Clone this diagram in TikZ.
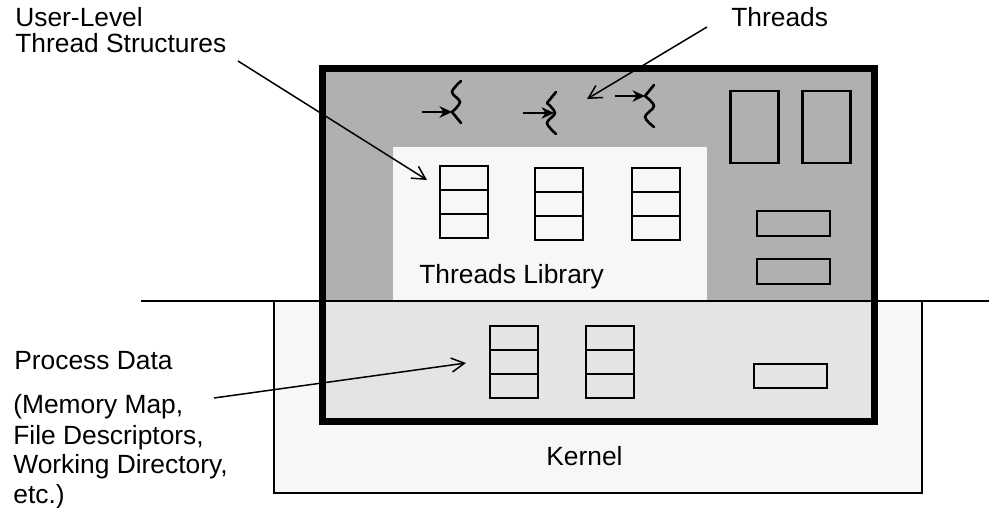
\documentclass[tikz,border=0pt]{standalone}
\usepackage{fontspec}
\setmainfont{Liberation Sans}
\usetikzlibrary{arrows.meta}
\definecolor{userfill}{HTML}{B0B0B0}
\definecolor{libfill}{HTML}{F7F7F7}
\definecolor{kernfill}{HTML}{E4E4E4}
\begin{document}
\begin{tikzpicture}[x=0.02cm, y=-0.02cm, font=\fontsize{15}{18}\selectfont, >={Straight Barb[length=2.6mm,width=2.8mm]}]
	\tikzset{slot/.style={draw, line width=1.4pt, minimum width=0.96cm, minimum height=0.48cm, inner sep=0pt, outer sep=0pt}}
	\tikzset{tall/.style={slot, minimum height=1.44cm}}
	\tikzset{flat/.style={slot, minimum width=1.46cm, minimum height=0.49cm}}
	\tikzset{label style/.style={inner sep=0pt, anchor=base west}}
	\tikzset{thread/.style={line width=1.5pt, line cap=round}}
	\tikzset{pointer/.style={->, line width=0.85pt}}
	\tikzset{tail/.style={-{Stealth[length=2.5mm,width=2.3mm]}, line width=1.7pt}}
	\useasboundingbox (0,0) rectangle (989,507);
	% regions
	\fill[libfill] (274,301) rectangle (922,493);
	\draw[line width=1.4pt] (274,301) -- (274,493) -- (922,493) -- (922,301);
	\fill[userfill] (322,69) rectangle (874,301);
	\fill[kernfill] (322,301) rectangle (874,421);
	\fill[libfill] (393,147) rectangle (707,301);
	\draw[line width=1.4pt] (141,301) -- (989,301);
	\draw[line width=4.3pt] (322.5,68.7) rectangle (874.5,421.3);
	% tables
	\foreach \name/\x/\y in {ua/464/166, ub/559/168, uc/656/168, pa/514/326, pb/610/326}{
		\node[slot] (\name1) at (\x,\y+12) {};
		\node[slot] (\name2) at (\x,\y+36) {};
		\node[slot] (\name3) at (\x,\y+60) {};
	}
	% other boxes
	\node[tall] (stacka) at (754.3,127) {};
	\node[tall] (stackb) at (826.7,127) {};
	\node[flat] (boxa) at (793.5,223.5) {};
	\node[flat] (boxb) at (793.5,271.5) {};
	\node[flat] (boxc) at (790.5,376) {};
	% threads
	\draw[thread] plot[smooth, tension=0.55] coordinates {(461,81) (452,92) (460,102) (452,112)};
	\draw[thread] (452,112) -- (461,123);
	\draw[thread] (556,92) -- (547,103);
	\draw[thread] plot[smooth, tension=0.55] coordinates {(547,103) (555,113) (547,123) (556,134)};
	\draw[thread] (654,85) -- (645,96);
	\draw[thread] plot[smooth, tension=0.55] coordinates {(645,96) (654,106) (645,117) (654,127)};
	\foreach \name/\fromx/\fromy/\tox/\toy in {ta/422/112/452/112, tb/523/113/554/113, tc/615/96/645/96}{
		\coordinate (\name from) at (\fromx,\fromy);
		\coordinate (\name to) at (\tox,\toy);
		\draw[tail] (\name from) -- (\name to);
	}
	% labels
	\node[label style] (userlabel) at (15,27) {User-Level};
	\node[label style] (structlabel) at (15,52) {Thread Structures};
	\node[label style] (threadslabel) at (731,27) {Threads};
	\node[label style] (liblabel) at (419,283) {Threads Library};
	\node[label style] (kernlabel) at (546,465) {Kernel};
	\node[label style] (datalabel) at (14,369) {Process Data};
	\node[label style] (maplabel) at (13,413) {(Memory Map,};
	\node[label style] (filelabel) at (13,444) {File Descriptors,};
	\node[label style] (dirlabel) at (13,473) {Working Directory,};
	\node[label style] (etclabel) at (13,503) {etc.)};
	% pointers
	\coordinate (structfrom) at (238,61);
	\coordinate (structto) at (427,180);
	\coordinate (threadsfrom) at (707,27);
	\coordinate (threadsto) at (587,99);
	\coordinate (datafrom) at (214,398);
	\coordinate (datato) at (466,363);
	\draw[pointer] (structfrom) -- (structto);
	\draw[pointer] (threadsfrom) -- (threadsto);
	\draw[pointer] (datafrom) -- (datato);
\end{tikzpicture}
\end{document}
